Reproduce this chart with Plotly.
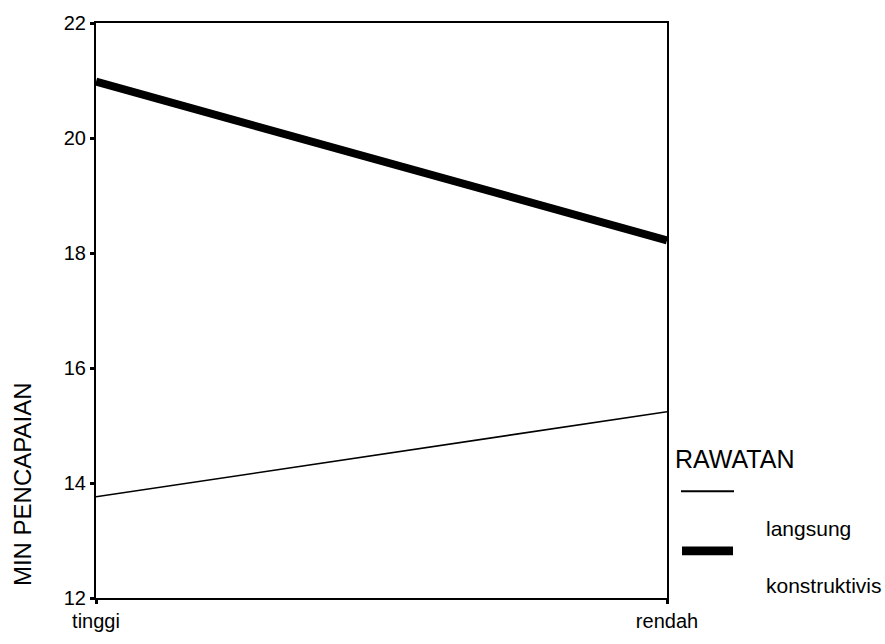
import plotly.graph_objects as go

# Data
categories = ["tinggi", "rendah"]
series_names = ["langsung", "konstruktivis"]
langsung = [13.76, 15.24]
konstruktivis = [20.98, 18.22]
y_ticks = [12, 14, 16, 18, 20, 22]
legend_title = "RAWATAN"
y_title = "MIN PENCAPAIAN"

W, H = 885, 644
PL, PR, PT, PB = 96, 667, 17, 610  # plot area in page pixels
L, T, R, B = PL, PT, W - PR, H - PB
PW, PH = PR - PL, PB - PT

def px(x):
    return (x - PL) / PW

def py(y):
    return (PB - y) / PH

FONT = "Liberation Sans, Arial, sans-serif"

fig = go.Figure()
xs = list(range(len(categories)))
fig.add_trace(go.Scatter(x=xs, y=langsung, mode="lines", name=series_names[0],
                         line=dict(color="black", width=1.6), showlegend=False))
fig.add_trace(go.Scatter(x=xs, y=konstruktivis, mode="lines", name=series_names[1],
                         line=dict(color="black", width=8), showlegend=False))

fig.update_layout(
    width=W, height=H,
    margin=dict(l=L, r=R, t=T, b=B, pad=0),
    plot_bgcolor="white", paper_bgcolor="white",
    font=dict(family=FONT, size=20, color="black"),
    showlegend=False,
)
fig.update_xaxes(
    range=[0, 1], tickvals=xs, ticktext=categories,
    showline=True, linecolor="black", linewidth=2, mirror=True,
    ticks="outside", ticklen=4, tickwidth=3, tickcolor="black",
    showgrid=False, zeroline=False, tickfont=dict(size=20),
)
fig.update_yaxes(
    range=[12, 22], tickvals=y_ticks,
    showline=True, linecolor="black", linewidth=2, mirror=True,
    ticks="outside", ticklen=4, tickwidth=3, tickcolor="black",
    showgrid=False, zeroline=False, tickfont=dict(size=20),
)

# Legend drawn manually
fig.add_annotation(x=px(673), y=py(467), xref="paper", yref="paper",
                   text=legend_title, showarrow=False, xanchor="left", yanchor="middle",
                   font=dict(size=25, family=FONT))
fig.add_shape(type="line", xref="paper", yref="paper",
              x0=px(681), x1=px(734), y0=py(500), y1=py(500),
              line=dict(color="black", width=2))
fig.add_shape(type="rect", xref="paper", yref="paper",
              x0=px(682), x1=px(733), y0=py(557), y1=py(566),
              line=dict(color="black", width=0), fillcolor="black")
fig.add_annotation(x=px(764), y=py(538), xref="paper", yref="paper",
                   text=series_names[0], showarrow=False, xanchor="left", yanchor="middle",
                   font=dict(size=21, family=FONT))
fig.add_annotation(x=px(764), y=py(597), xref="paper", yref="paper",
                   text=series_names[1], showarrow=False, xanchor="left", yanchor="middle",
                   font=dict(size=21, family=FONT))
fig.add_annotation(x=px(22.5), y=py(493), xref="paper", yref="paper",
                   text=y_title, showarrow=False, textangle=-90,
                   xanchor="center", yanchor="middle",
                   font=dict(size=24, family=FONT))

fig.write_html(
    "out.html",
    config={"displayModeBar": False},
    post_script="document.body.style.margin='0';document.body.style.overflow='hidden';",
)
